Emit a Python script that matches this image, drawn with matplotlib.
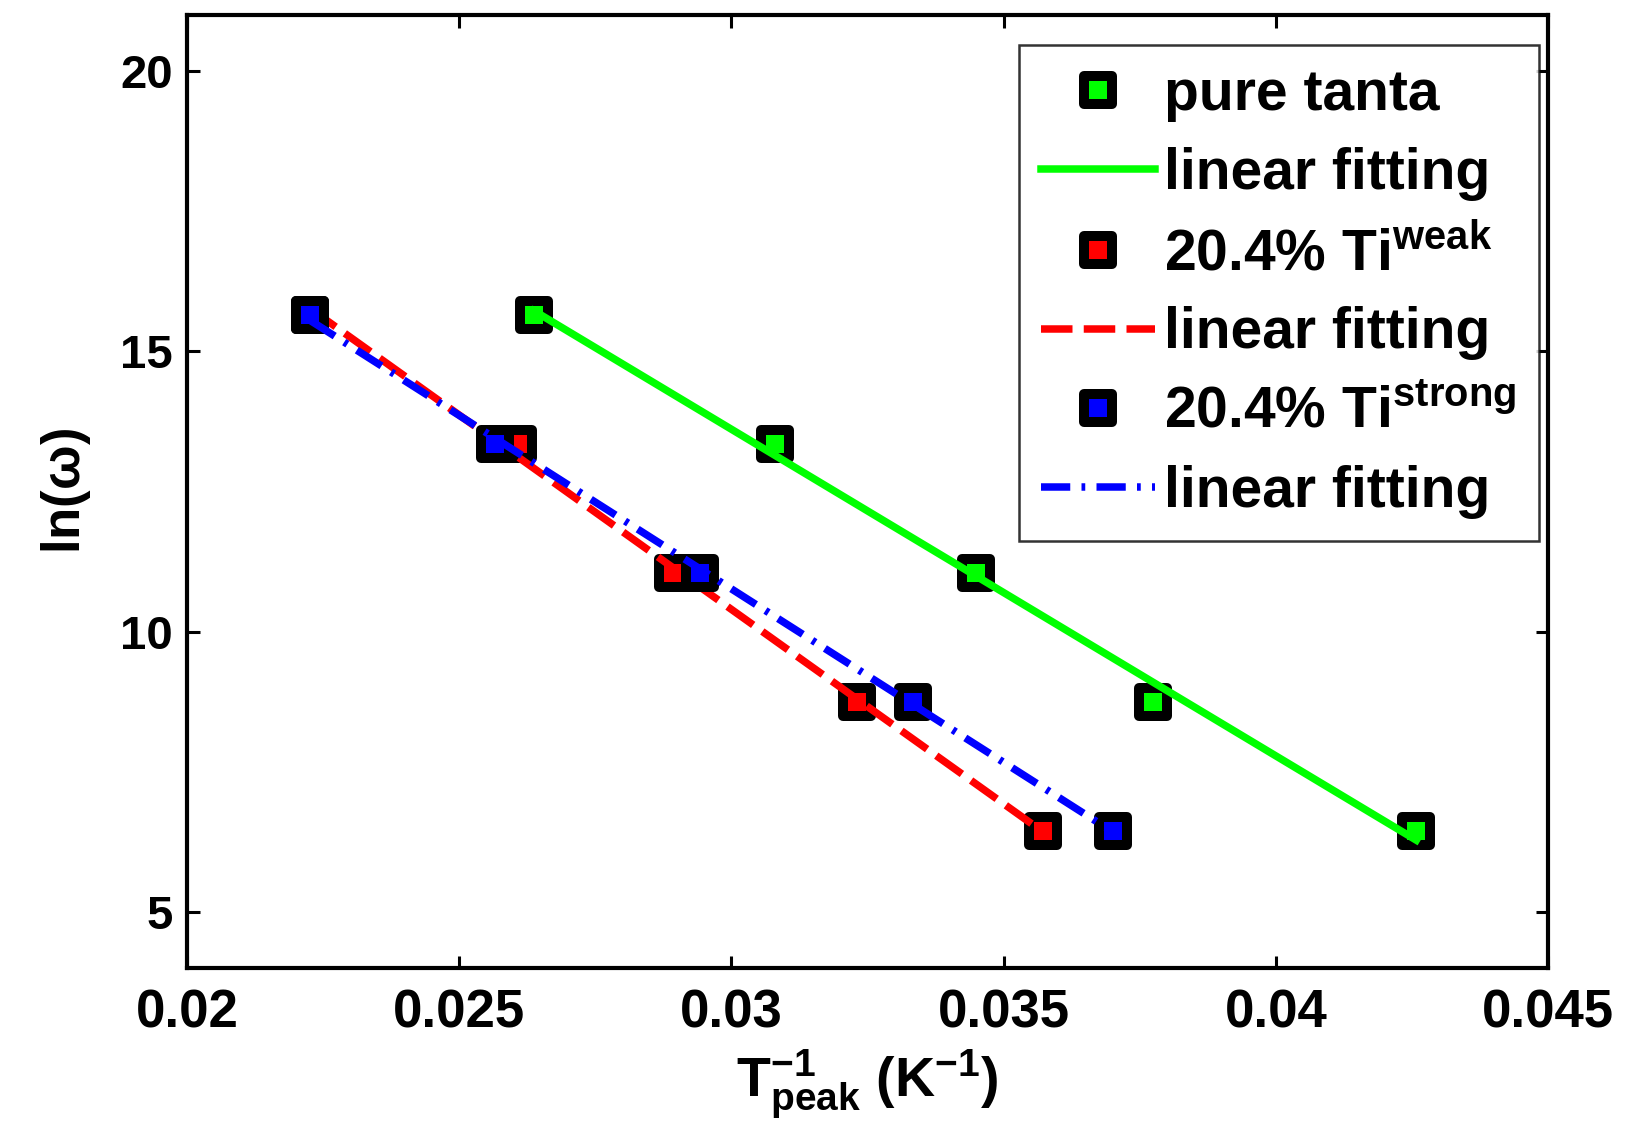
import numpy as np
import matplotlib
matplotlib.use("Agg")
import matplotlib.pyplot as plt
from matplotlib.markers import MarkerStyle

plt.rcParams['font.family'] = ['Liberation Sans', 'DejaVu Sans']
plt.rcParams['font.weight'] = 'bold'
plt.rcParams['mathtext.fontset'] = 'custom'
plt.rcParams['mathtext.rm'] = 'Liberation Sans:bold'
plt.rcParams['mathtext.bf'] = 'Liberation Sans:bold'
plt.rcParams['mathtext.it'] = 'Liberation Sans:bold'

# ln(omega) at the measuring frequencies, same for every sample
ln_w = [15.65, 13.35, 11.05, 8.75, 6.44]

# inverse peak temperatures (1/K)
inv_T_pure = [0.02637, 0.03080, 0.03449, 0.03774, 0.04258]
inv_T_weak = [0.02226, 0.02608, 0.02893, 0.03231, 0.03572]
inv_T_strong = [0.02226, 0.02566, 0.02942, 0.03334, 0.03701]

series = [
    (inv_T_pure, '#00ff00', '-', 'pure tanta'),
    (inv_T_weak, '#ff0000', '--', r'20.4% Ti$^{\mathbf{weak}}$'),
    (inv_T_strong, '#0000ff', '-.', r'20.4% Ti$^{\mathbf{strong}}$'),
]

fig = plt.figure(figsize=(16.49, 11.48), dpi=100)
ax = fig.add_axes([0.1134, 0.1568, 0.8254, 0.8302])

sq = MarkerStyle('s', joinstyle='round')
z = 2
for xs, col, ls, name in series:
    xs = np.array(xs)
    ax.plot(xs, ln_w, marker=sq, ms=19.5, mew=7.2, mec='black', mfc=col,
            ls='none', label=name, zorder=z)
    p = np.polyfit(xs, ln_w, 1)
    xf = np.array([xs.min(), xs.max()])
    if ls == '--':
        dash = dict(dashes=(4.2, 1.5))
    elif ls == '-.':
        dash = dict(dashes=(3.9, 1.5, 0.5, 1.5))
    else:
        dash = {}
    ax.plot(xf, np.polyval(p, xf), color=col, ls=ls, lw=5.4,
            label='linear fitting', zorder=z + 1, **dash)
    z += 2

ax.set_xlim(0.02, 0.045)
ax.set_ylim(4, 21)
ax.set_xticks([0.02, 0.025, 0.03, 0.035, 0.04, 0.045])
ax.set_xticklabels(['0.02', '0.025', '0.03', '0.035', '0.04', '0.045'])
ax.set_yticks([5, 10, 15, 20])

for lab in ax.get_xticklabels():
    lab.set_fontsize(38)
    lab.set_fontweight('bold')
for lab in ax.get_yticklabels():
    lab.set_fontsize(34)
    lab.set_fontweight('bold')

ax.tick_params(direction='in', length=9, width=2.2, top=True, right=True)
ax.tick_params(axis='x', pad=15)
ax.tick_params(axis='y', pad=10)
for s in ax.spines.values():
    s.set_linewidth(3)

ax.set_ylabel(r'ln($\omega$)', fontsize=38, fontweight='bold', labelpad=20)
ax.set_xlabel(r'$\mathbf{T^{-1}_{peak}}$ (K$^{\mathbf{-1}}$)', fontsize=40,
              fontweight='bold', labelpad=6)

leg = ax.legend(loc='upper right', bbox_to_anchor=(0.993, 0.9685),
                borderaxespad=0, fontsize=41, frameon=True, fancybox=False,
                handlelength=2.0, handletextpad=0.15, labelspacing=0.44,
                borderpad=0.4, markerscale=1.0)
leg.get_frame().set_edgecolor('black')
leg.get_frame().set_linewidth(1.8)
for t in leg.get_texts():
    t.set_fontweight('bold')

fig.savefig('out.png', dpi=100, facecolor='white')
